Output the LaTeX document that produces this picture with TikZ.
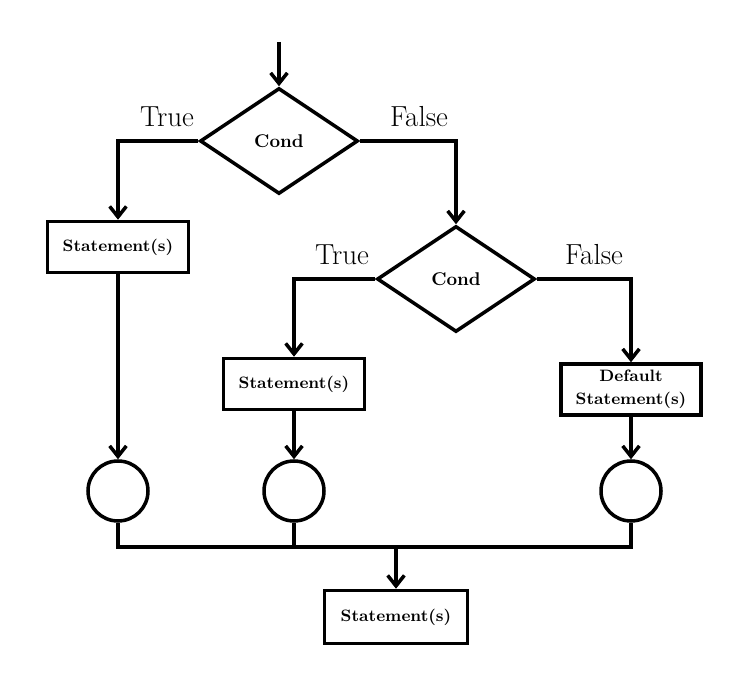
\documentclass[tikz,border=0pt]{standalone}
\usepackage{tikz}
\usetikzlibrary{arrows.meta,positioning,shapes,calc}

\begin{document}
\begin{tikzpicture}[x=0.02cm, y=-0.02cm,
    line width=2pt,
    arr/.style={-{Straight Barb[length=6pt,width=9.5pt,line width=2pt]}},
    cond/.style={diamond, draw, fill=white, inner sep=0pt, minimum width=3.16cm, minimum height=2.12cm, font=\fontsize{10.5}{12}\selectfont\bfseries},
    stmt/.style={rectangle, draw, fill=white, inner sep=2pt, minimum width=2.82cm, minimum height=1.02cm, font=\fontsize{9.4}{11}\selectfont\bfseries, align=center},
    junction/.style={circle, draw, fill=white, minimum size=1.2cm, inner sep=0pt},
    lbl/.style={font=\fontsize{16.5}{20}\selectfont}]
% page
\fill[white] (0,0) rectangle (750,688);

% Decisions
\node[cond] (cond1) at (279,141) {Cond};
\node[cond] (cond2) at (456,279) {Cond};

% Statement boxes
\node[stmt] (stmt1) at (118,247) {Statement(s)};
\node[stmt] (stmt2) at (294,384) {Statement(s)};
\node[stmt, minimum width=2.8cm] (stmt3) at (631,389.5) {Default\\[2pt]Statement(s)};
\node[stmt, minimum width=2.86cm, minimum height=1.06cm] (stmt4) at (396,617) {Statement(s)};

% Junction circles
\node[junction] (junc1) at (118,491) {};
\node[junction] (junc2) at (294,491) {};
\node[junction] (junc3) at (631,491) {};

% Labels
\node[lbl] (true1) at (167,117) {True};
\node[lbl] (false1) at (419,117) {False};
\node[lbl] (true2) at (342,255) {True};
\node[lbl] (false2) at (594,255) {False};

% Entry and merge points
\coordinate (entry) at (279,42);
\coordinate (merge) at (396,547);

% Arrows
\draw[arr] (entry) -- (cond1.north);
\draw[arr] (cond1.west) -| (stmt1.north);
\draw[arr] (cond1.east) -| (cond2.north);
\draw[arr] (cond2.west) -| (stmt2.north);
\draw[arr] (cond2.east) -| (stmt3.north);
\draw[arr] (stmt1.south) -- (junc1.north);
\draw[arr] (stmt2.south) -- (junc2.north);
\draw[arr] (stmt3.south) -- (junc3.north);

% Merge lines
\draw (junc1.south) |- (merge) -| (junc3.south);
\draw (junc2.south) -- (junc2.south |- merge);
\draw[arr] (merge) -- (stmt4.north);

\end{tikzpicture}
\end{document}
